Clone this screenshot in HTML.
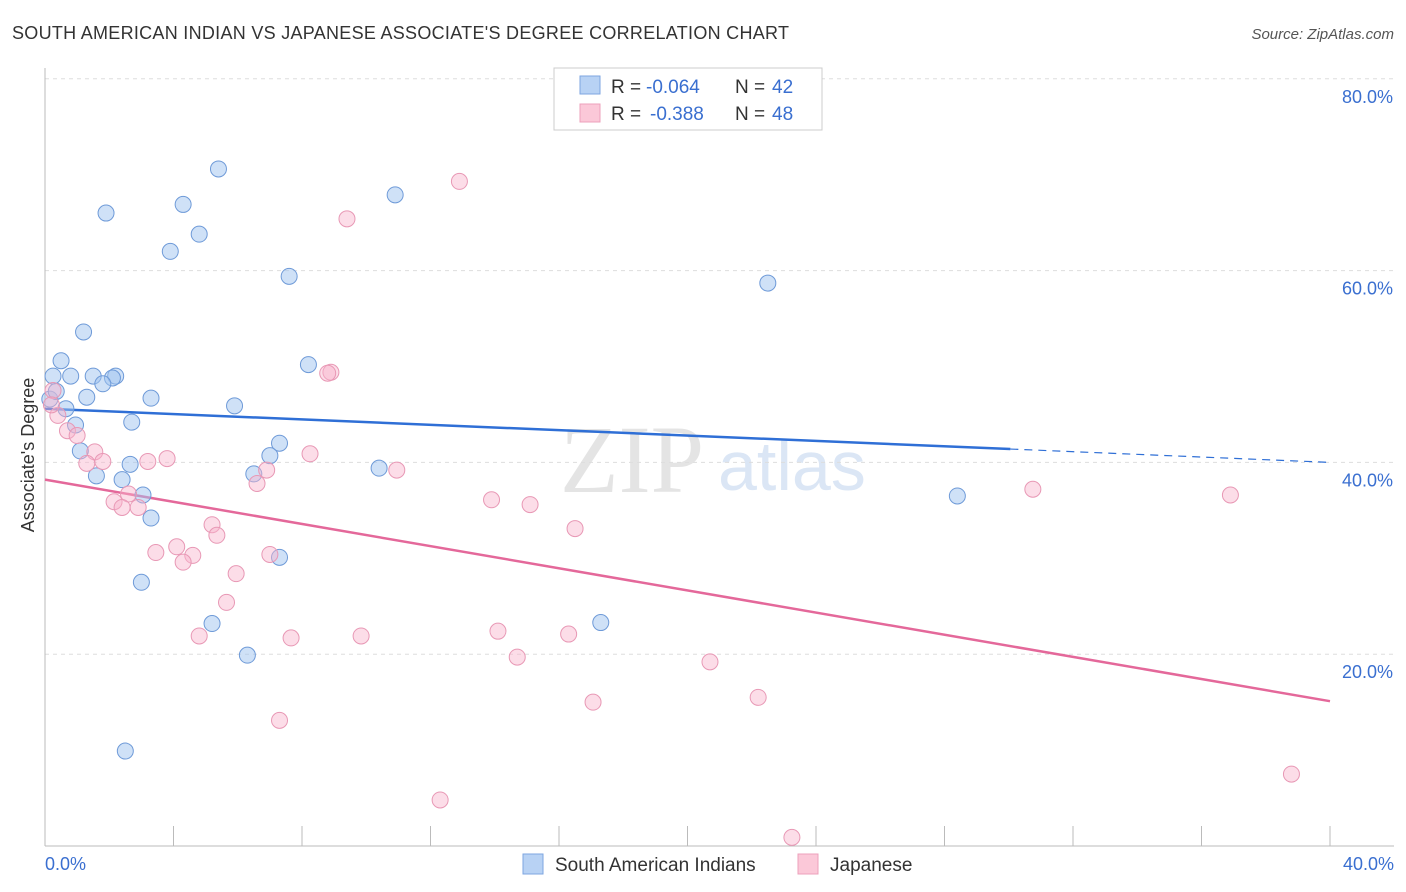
<!DOCTYPE html>
<html><head><meta charset="utf-8"><style>
body{margin:0;background:#fff;font-family:"Liberation Sans",sans-serif;}
svg{display:block}
</style></head><body>
<svg width="1406" height="892" id="chart">
<text x="12" y="39" font-size="18" fill="#333" textLength="777">SOUTH AMERICAN INDIAN VS JAPANESE ASSOCIATE'S DEGREE CORRELATION CHART</text>
<text x="1394" y="39" font-size="15" fill="#555" font-style="italic" text-anchor="end">Source: ZipAtlas.com</text>
<text x="560" y="492" font-size="96" fill="#e4e4e4" font-family="Liberation Serif,serif">ZIP</text>
<text x="718" y="490" font-size="70" fill="#dbe6f5">atlas</text>
<g id="grid"></g><g id="axes"></g><g id="trends"></g><g id="pts"></g>
<text transform="translate(34,455) rotate(-90)" font-size="18" fill="#333" text-anchor="middle">Associate's Degree</text>
<text x="45" y="870" font-size="18" fill="#3a6fd0">0.0%</text>
<text x="1394" y="870" font-size="18" fill="#3a6fd0" text-anchor="end">40.0%</text>
<g>
<rect x="554" y="68" width="268" height="62" fill="#fff" stroke="#ccc"/>
<rect x="580" y="76" width="20" height="18" fill="#b8d2f4" stroke="#7ea6e0"/>
<rect x="580" y="104" width="20" height="18" fill="#fbc8d8" stroke="#eda0bb"/>
<text x="611" y="93" font-size="19" fill="#333">R =</text>
<text x="646" y="93" font-size="19" fill="#3a6fd0">-0.064</text>
<text x="735" y="93" font-size="19" fill="#333">N =</text>
<text x="772" y="93" font-size="19" fill="#3a6fd0">42</text>
<text x="611" y="120" font-size="19" fill="#333">R =</text>
<text x="650" y="120" font-size="19" fill="#3a6fd0">-0.388</text>
<text x="735" y="120" font-size="19" fill="#333">N =</text>
<text x="772" y="120" font-size="19" fill="#3a6fd0">48</text>
</g>
<g>
<rect x="523" y="854" width="20" height="20" fill="#b8d2f4" stroke="#7ea6e0"/>
<text x="555" y="871" font-size="19" fill="#333">South American Indians</text>
<rect x="798" y="854" width="20" height="20" fill="#fbc8d8" stroke="#eda0bb"/>
<text x="830" y="871" font-size="19" fill="#333">Japanese</text>
</g>
</svg>
<script>
const yTicks=[20,40,60,80];
const xTicks=[0,4,8,12,16,20,24,28,32,36,40];
const blueX=[5.4,1.9,4.3,4.8,3.9,10.9,7.6,22.5,1.2,0.5,8.2,0.25,0.8,1.5,2.2,2.1,1.8,1.3,3.3,5.9,0.15,0.35,0.65,0.95,2.7,7.3,1.1,7.0,2.65,1.6,2.4,6.5,10.4,3.05,3.3,7.3,3.0,5.2,17.3,6.3,2.5,28.4];
const blueY=[70.6,66.0,66.9,63.8,62.0,67.9,59.4,58.7,53.6,50.6,50.2,49.0,49.0,49.0,49.0,48.8,48.2,46.8,46.7,45.9,46.6,47.4,45.6,43.9,44.2,42.0,41.2,40.7,39.8,38.6,38.2,38.8,39.4,36.6,34.2,30.1,27.5,23.2,23.3,19.9,9.9,36.5];
const pinkX=[12.9,9.4,8.9,8.8,0.25,0.4,0.7,1.0,1.55,8.25,3.8,3.2,1.8,1.3,10.95,6.9,6.6,2.6,2.15,2.4,2.9,13.9,15.1,16.5,5.2,5.35,4.1,3.45,4.6,4.3,7.0,5.95,5.65,4.8,7.66,9.84,14.1,16.3,14.7,20.7,22.2,17.06,7.3,12.3,23.25,30.75,36.9,38.8,0.2];
const pinkY=[69.3,65.4,49.4,49.3,47.5,44.9,43.3,42.8,41.1,40.9,40.4,40.1,40.1,39.9,39.2,39.2,37.8,36.7,35.9,35.3,35.3,36.1,35.6,33.1,33.5,32.4,31.2,30.6,30.3,29.6,30.4,28.4,25.4,21.9,21.7,21.9,22.4,22.1,19.7,19.2,15.5,15.0,13.1,4.8,0.9,37.2,36.6,7.5,46.0];
const blueTrend=[45.6,40.0], pinkTrend=[38.2,15.1];
const X=v=>45+v*32.125, Y=v=>846-v*9.59;
const NS='http://www.w3.org/2000/svg';
function mk(tag,at,parent){const e=document.createElementNS(NS,tag);for(const k in at)e.setAttribute(k,at[k]);document.getElementById(parent).appendChild(e);return e;}
yTicks.forEach(t=>{
 const l=mk('line',{x1:45,x2:1394,y1:Y(t),y2:Y(t),stroke:'#ddd','stroke-dasharray':'4,4'},'grid');
 
 
 const tx=mk('text',{x:1393,y:Y(t)+24,'font-size':18,fill:'#3a6fd0','text-anchor':'end'},'grid');
 tx.textContent=t.toFixed(1)+'%';
 
 
});
mk('line',{x1:45,x2:1394,y1:846,y2:846,stroke:'#bbb'},'axes');
mk('line',{x1:45,x2:45,y1:68,y2:846,stroke:'#bbb'},'axes');
xTicks.forEach(t=>{
 const l=mk('line',{x1:X(t),x2:X(t),y1:826,y2:846,stroke:'#bbb'},'axes');
 
 
});
const bEnd=30.05, bAt=v=>blueTrend[0]+(blueTrend[1]-blueTrend[0])*v/40;
let t1=mk('line',{x1:X(0),y1:Y(bAt(0)),x2:X(bEnd),y2:Y(bAt(bEnd)),stroke:'#2f6fd6','stroke-width':2.5},'trends');


let t2=mk('line',{x1:X(bEnd),y1:Y(bAt(bEnd)),x2:X(40),y2:Y(bAt(40)),stroke:'#2f6fd6','stroke-width':1.2,'stroke-dasharray':'8,6'},'trends');


let t3=mk('line',{x1:X(0),y1:Y(pinkTrend[0]),x2:X(40),y2:Y(pinkTrend[1]),stroke:'#e4689a','stroke-width':2.5},'trends');


blueX.forEach((x,i)=>{
 const c=mk('circle',{cx:X(x),cy:Y(blueY[i]),r:8,fill:'rgba(160,195,240,0.5)',stroke:'#6e9ad8','stroke-width':1},'pts');
 
 
});
pinkX.forEach((x,i)=>{
 const c=mk('circle',{cx:X(x),cy:Y(pinkY[i]),r:8,fill:'rgba(248,180,205,0.45)',stroke:'#e898b5','stroke-width':1},'pts');
 
 
});
</script>
</body></html>
